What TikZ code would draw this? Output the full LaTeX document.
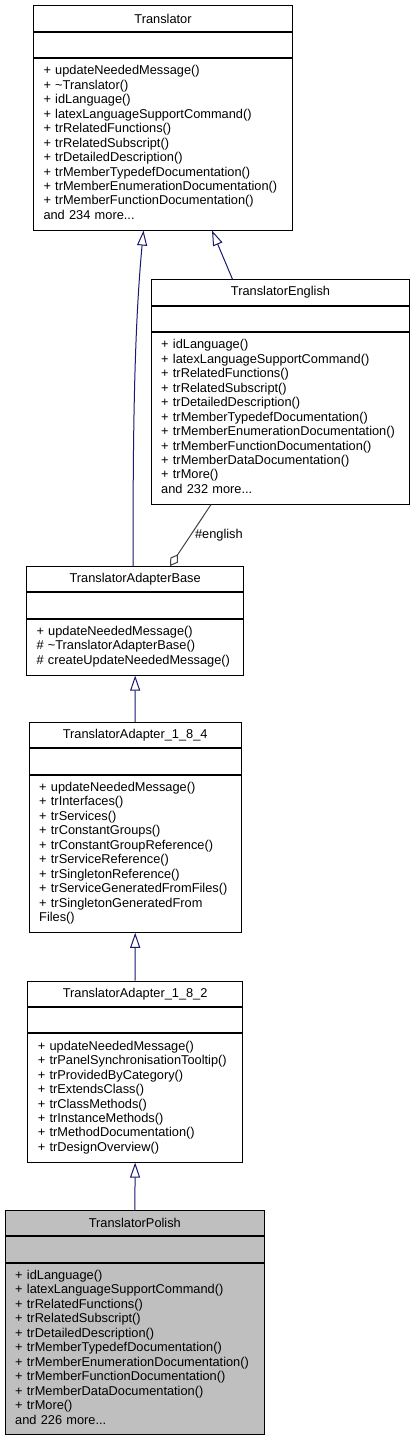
\documentclass[tikz,border=0pt]{standalone}
\usepackage{fontspec}
\setmainfont{Liberation Sans}
\usetikzlibrary{arrows.meta}
\definecolor{edgeinh}{HTML}{191970}
\definecolor{edgeagg}{HTML}{404040}
\definecolor{focus}{HTML}{BFBFBF}
\tikzset{
  hd/.style={draw=black,line width=1pt,fill=white,minimum height=25.3pt,inner sep=0pt,anchor=north west,font=\fontsize{12.8}{14.46}\selectfont},
  sec/.style={draw=black,line width=1pt,fill=white,minimum height=25.3pt,inner sep=0pt,anchor=north},
  mem/.style={draw=black,line width=1pt,fill=white,inner xsep=10pt,inner ysep=6.3pt,anchor=north,align=left,
    font=\fontsize{12.8}{14.46}\selectfont,execute at begin node=\strut,execute at end node=\strut},
  cur/.style={fill=focus},
  ar/.style={{Triangle[open,length=15pt,width=10pt]}-,draw=edgeinh,line width=1pt},
  agg/.style={-{Diamond[open,length=14pt,width=9pt]},draw=edgeagg,line width=1pt},
  lbl/.style={font=\fontsize{12.8}{14.46}\selectfont,inner sep=1pt,anchor=west},
}
\begin{document}
\begin{tikzpicture}[x=1pt,y=-1pt]
  \useasboundingbox[fill=white] (0,0) rectangle (415,1439);

  % Translator
  \node[hd,minimum width=259pt] (tr) at (33,5.3) {Translator};
  \node[sec,minimum width=259pt] (tr-e) at (tr.south) {};
  \node[mem,text width=239pt] (tr-m) at (tr-e.south) {+ updateNeededMessage()\\
    + \textasciitilde Translator()\\
    + idLanguage()\\
    + latexLanguageSupportCommand()\\
    + trRelatedFunctions()\\
    + trRelatedSubscript()\\
    + trDetailedDescription()\\
    + trMemberTypedefDocumentation()\\
    + trMemberEnumerationDocumentation()\\
    + trMemberFunctionDocumentation()\\
    and 234 more...};

  % TranslatorEnglish
  \node[hd,minimum width=258.6pt] (en) at (150.7,279.3) {TranslatorEnglish};
  \node[sec,minimum width=258.6pt] (en-e) at (en.south) {};
  \node[mem,text width=238.6pt] (en-m) at (en-e.south) {+ idLanguage()\\
    + latexLanguageSupportCommand()\\
    + trRelatedFunctions()\\
    + trRelatedSubscript()\\
    + trDetailedDescription()\\
    + trMemberTypedefDocumentation()\\
    + trMemberEnumerationDocumentation()\\
    + trMemberFunctionDocumentation()\\
    + trMemberDataDocumentation()\\
    + trMore()\\
    and 232 more...};

  % TranslatorAdapterBase
  \node[hd,minimum width=217.3pt] (ab) at (26,566) {TranslatorAdapterBase};
  \node[sec,minimum width=217.3pt] (ab-e) at (ab.south) {};
  \node[mem,text width=197.3pt] (ab-m) at (ab-e.south) {+ updateNeededMessage()\\
    \# \textasciitilde TranslatorAdapterBase()\\
    \# createUpdateNeededMessage()};

  % TranslatorAdapter_1_8_4
  \node[hd,minimum width=212pt] (a184) at (28.7,722) {TranslatorAdapter\_1\_8\_4};
  \node[sec,minimum width=212pt] (a184-e) at (a184.south) {};
  \node[mem,text width=192pt] (a184-m) at (a184-e.south) {+ updateNeededMessage()\\
    + trInterfaces()\\
    + trServices()\\
    + trConstantGroups()\\
    + trConstantGroupReference()\\
    + trServiceReference()\\
    + trSingletonReference()\\
    + trServiceGeneratedFromFiles()\\
    + trSingletonGeneratedFrom\\
    Files()};

  % TranslatorAdapter_1_8_2
  \node[hd,minimum width=214.7pt] (a182) at (27.3,980.7) {TranslatorAdapter\_1\_8\_2};
  \node[sec,minimum width=214.7pt] (a182-e) at (a182.south) {};
  \node[mem,text width=194.7pt] (a182-m) at (a182-e.south) {+ updateNeededMessage()\\
    + trPanelSynchronisationTooltip()\\
    + trProvidedByCategory()\\
    + trExtendsClass()\\
    + trClassMethods()\\
    + trInstanceMethods()\\
    + trMethodDocumentation()\\
    + trDesignOverview()};

  % TranslatorPolish
  \node[hd,cur,minimum width=259.3pt] (pl) at (4.7,1210) {TranslatorPolish};
  \node[sec,cur,minimum width=259.3pt] (pl-e) at (pl.south) {};
  \node[mem,cur,text width=239.3pt] (pl-m) at (pl-e.south) {+ idLanguage()\\
    + latexLanguageSupportCommand()\\
    + trRelatedFunctions()\\
    + trRelatedSubscript()\\
    + trDetailedDescription()\\
    + trMemberTypedefDocumentation()\\
    + trMemberEnumerationDocumentation()\\
    + trMemberFunctionDocumentation()\\
    + trMemberDataDocumentation()\\
    + trMore()\\
    and 226 more...};

  % edges
  \draw[ar] ([xshift=-19.5pt]tr-m.south) .. controls (135,320) and (132.7,420) .. ([xshift=-2pt]ab.north);
  \draw[ar] ([xshift=49pt]tr-m.south) -- ([xshift=-48pt]en.north);
  \draw[agg] ([xshift=-69.5pt]en-m.south) -- node[lbl,pos=0.5,xshift=3pt] {\#english} ([xshift=35pt]ab.north);
  \draw[ar] (ab-m.south) -- (a184.north);
  \draw[ar] (a184-m.south) -- (a182.north);
  \draw[ar] (a182-m.south) -- (pl.north);
\end{tikzpicture}
\end{document}
